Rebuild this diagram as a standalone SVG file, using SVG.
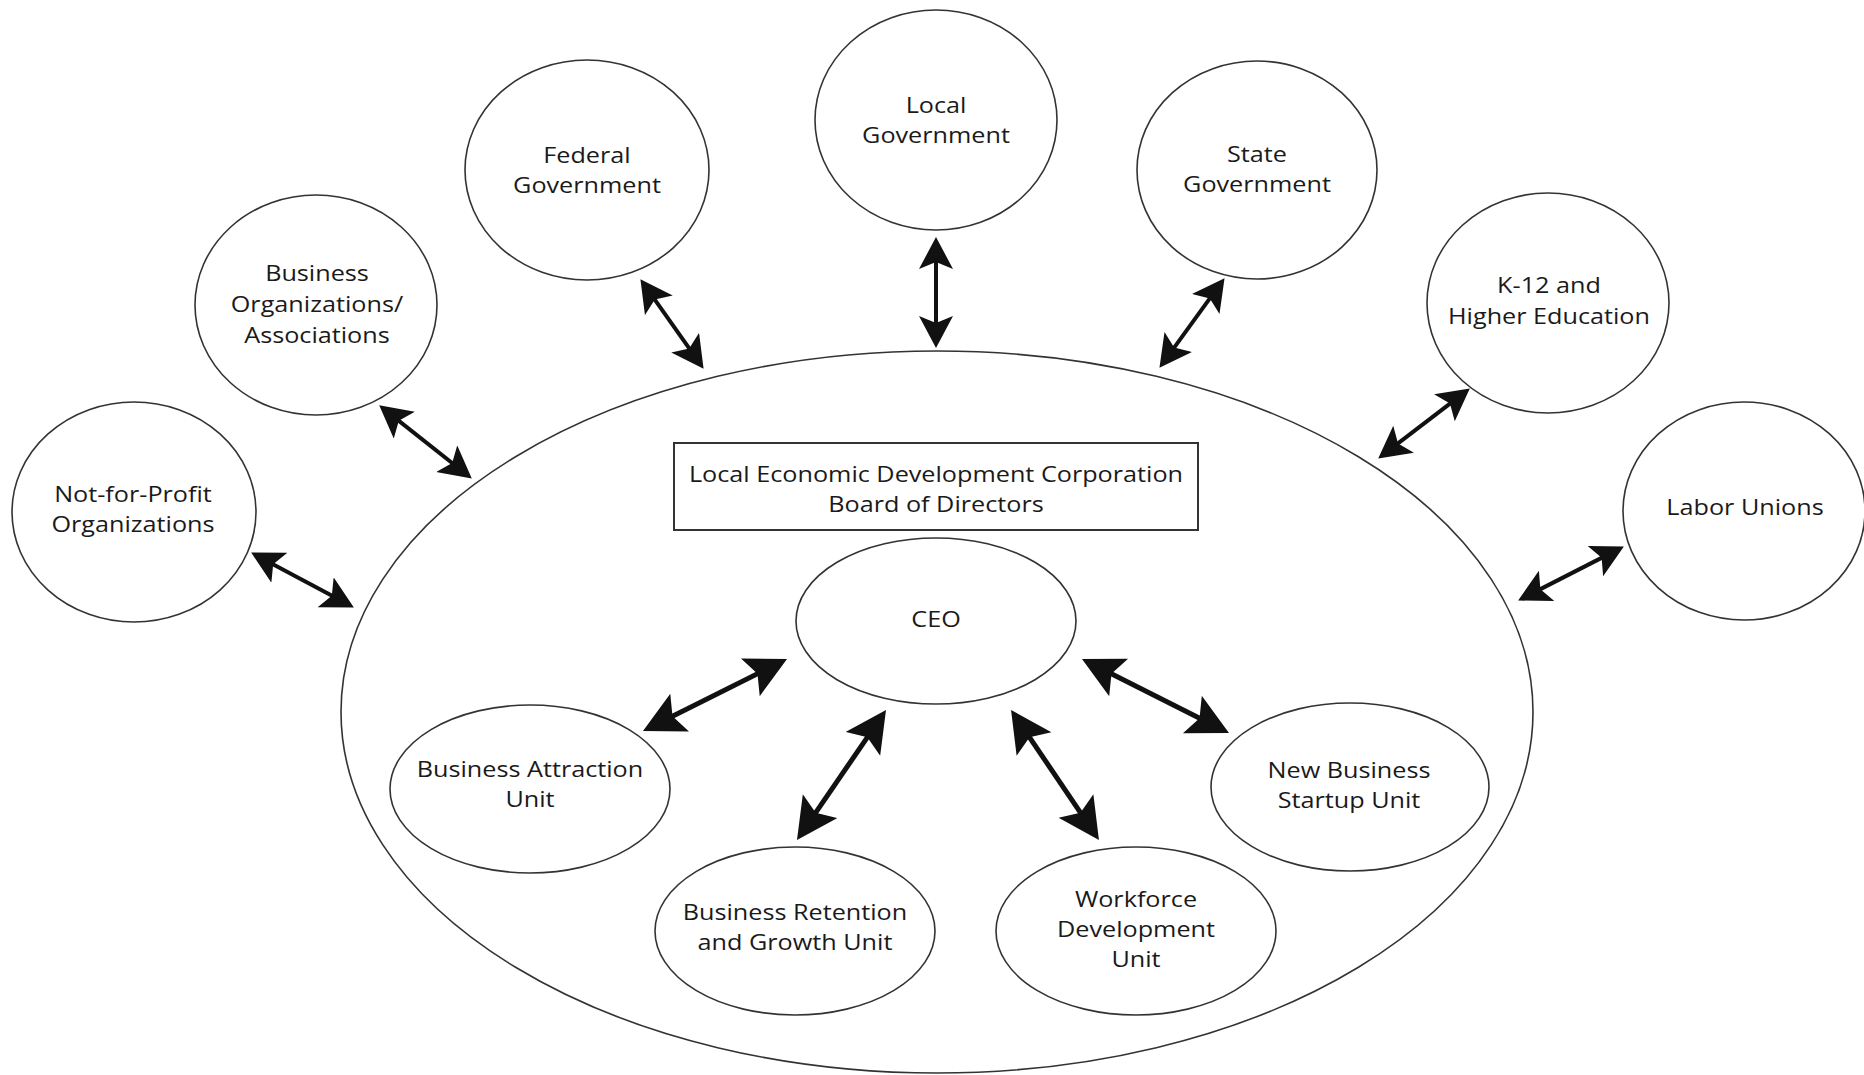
<svg xmlns="http://www.w3.org/2000/svg" width="1864" height="1075" viewBox="0 0 1864 1075">
<style>
  .n { fill: #fff; stroke: #333; stroke-width: 1.6; }
  .big { fill: none; stroke: #333; stroke-width: 1.6; }
  .box { fill: #fff; stroke: #333; stroke-width: 2; }
  text { font-family: "Open Sans", "Liberation Sans", sans-serif; font-size: 21px; font-weight: 500; fill: #1a1a1a; text-anchor: middle; transform-box: fill-box; transform-origin: center; transform: scaleX(1.2); }
  .c line { stroke: #111; fill: none; }
  .o { stroke-width: 4; marker-start: url(#ah); marker-end: url(#ah); }
  .i { stroke-width: 5; marker-start: url(#ahl); marker-end: url(#ahl); }
</style>
<defs>
  <marker id="ah" markerUnits="userSpaceOnUse" markerWidth="34" markerHeight="36" refX="19" refY="17" orient="auto-start-reverse" viewBox="0 0 34 36">
    <path d="M32,17 L0,0 L7,17 L0,34 Z" fill="#111"/>
  </marker>
  <marker id="ahl" markerUnits="userSpaceOnUse" markerWidth="44" markerHeight="44" refX="27" refY="21" orient="auto-start-reverse" viewBox="0 0 44 44">
    <path d="M41,21 L0,0 L8,21 L0,42 Z" fill="#111"/>
  </marker>
</defs>
<rect width="1864" height="1075" fill="#fff"/>

<g id="ledc">
  <ellipse class="big" cx="937" cy="712" rx="596" ry="361"/>
</g>

<g id="board">
  <rect class="box" x="674" y="443" width="524" height="87"/>
  <text x="936" y="482">Local Economic Development Corporation</text>
  <text x="936" y="512">Board of Directors</text>
</g>

<g id="not-for-profit">
  <ellipse class="n" cx="134" cy="512" rx="122" ry="110"/>
  <text x="133" y="502">Not-for-Profit</text>
  <text x="133" y="532">Organizations</text>
</g>
<g id="business-orgs">
  <ellipse class="n" cx="316" cy="305" rx="121" ry="110"/>
  <text x="317" y="281">Business</text>
  <text x="317" y="312">Organizations/</text>
  <text x="317" y="343">Associations</text>
</g>
<g id="federal">
  <ellipse class="n" cx="587" cy="170" rx="122" ry="110"/>
  <text x="587" y="163">Federal</text>
  <text x="587" y="193">Government</text>
</g>
<g id="local">
  <ellipse class="n" cx="936" cy="120" rx="121" ry="110"/>
  <text x="936" y="113">Local</text>
  <text x="936" y="143">Government</text>
</g>
<g id="state">
  <ellipse class="n" cx="1257" cy="170" rx="120" ry="109"/>
  <text x="1257" y="162">State</text>
  <text x="1257" y="192">Government</text>
</g>
<g id="k12">
  <ellipse class="n" cx="1548" cy="303" rx="121" ry="110"/>
  <text x="1549" y="293">K-12 and</text>
  <text x="1549" y="324">Higher Education</text>
</g>
<g id="labor">
  <ellipse class="n" cx="1744" cy="511" rx="121" ry="109"/>
  <text x="1745" y="515">Labor Unions</text>
</g>

<g id="ceo">
  <ellipse class="n" cx="936" cy="621" rx="140" ry="83"/>
  <text x="936" y="627">CEO</text>
</g>
<g id="attraction">
  <ellipse class="n" cx="530" cy="789" rx="140" ry="84"/>
  <text x="530" y="777">Business Attraction</text>
  <text x="530" y="807">Unit</text>
</g>
<g id="retention">
  <ellipse class="n" cx="795" cy="931" rx="140" ry="84"/>
  <text x="795" y="920">Business Retention</text>
  <text x="795" y="950">and Growth Unit</text>
</g>
<g id="workforce">
  <ellipse class="n" cx="1136" cy="931" rx="140" ry="84"/>
  <text x="1136" y="907">Workforce</text>
  <text x="1136" y="937">Development</text>
  <text x="1136" y="967">Unit</text>
</g>
<g id="startup">
  <ellipse class="n" cx="1350" cy="787" rx="139" ry="84"/>
  <text x="1349" y="778">New Business</text>
  <text x="1349" y="808">Startup Unit</text>
</g>

<g id="connectors" class="c">
  <line class="o" x1="262.6" y1="558.7" x2="342.4" y2="601.3"/>
  <line class="o" x1="389.4" y1="413.4" x2="461.6" y2="470.5"/>
  <line class="o" x1="647.9" y1="289.8" x2="696.1" y2="358.2"/>
  <line class="o" x1="936" y1="250" x2="936" y2="335"/>
  <line class="o" x1="1216.9" y1="288.7" x2="1167.1" y2="357.3"/>
  <line class="o" x1="1459.5" y1="396.3" x2="1388.5" y2="450.7"/>
  <line class="o" x1="1612.3" y1="552.4" x2="1529.7" y2="594.6"/>
  <line class="i" x1="774.5" y1="665.3" x2="655.5" y2="724.7"/>
  <line class="i" x1="878.1" y1="721.6" x2="804.9" y2="828.4"/>
  <line class="i" x1="1018.9" y1="721.6" x2="1091.1" y2="828.4"/>
  <line class="i" x1="1094.5" y1="665.3" x2="1216.5" y2="726.7"/>
</g>
</svg>
